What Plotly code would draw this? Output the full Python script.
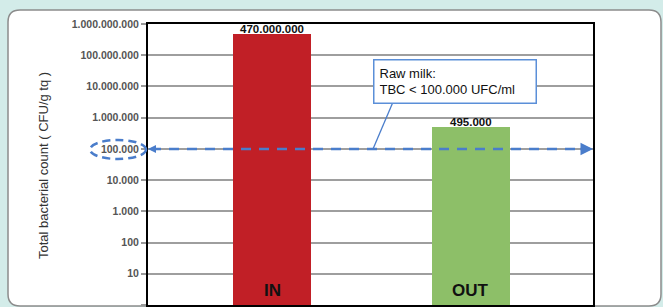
import math
import plotly.graph_objects as go

# ---- data ----
categories = ["IN", "OUT"]
counts = [470000000, 495000]
count_labels = ["470.000.000", "495.000"]
bar_colors = ["#C11F26", "#8DBF68"]
tick_values = [1, 10, 100, 1000, 10000, 100000, 1000000, 10000000, 100000000, 1000000000]
tick_labels = ["1", "10", "100", "1.000", "10.000", "100.000", "1.000.000",
               "10.000.000", "100.000.000", "1.000.000.000"]
threshold = 100000
threshold_text = "Raw milk:<br>TBC &lt; 100.000 UFC/ml"
y_title = "Total bacterial count ( CFU/g tq )"

W, H = 663, 307
L, R, T, B = 148, 593, 24, 305
BLUE = "#4A7DCB"


def px(xp):
    return (xp - L) / (R - L)


def py(yp):
    return (B - yp) / (B - T)


fig = go.Figure()
fig.add_trace(go.Bar(
    x=categories, y=counts, width=0.393,
    marker=dict(color=bar_colors, line=dict(width=0)),
    hoverinfo="skip",
))

# rounded white card
r = 12
x0c, x1c, y0c, y1c = 8, 661, 10, 306
card = (f"M {px(x0c+r)},{py(y0c)} L {px(x1c-r)},{py(y0c)} "
        f"Q {px(x1c)},{py(y0c)} {px(x1c)},{py(y0c+r)} "
        f"L {px(x1c)},{py(y1c-r)} Q {px(x1c)},{py(y1c)} {px(x1c-r)},{py(y1c)} "
        f"L {px(x0c+r)},{py(y1c)} Q {px(x0c)},{py(y1c)} {px(x0c)},{py(y1c-r)} "
        f"L {px(x0c)},{py(y0c+r)} Q {px(x0c)},{py(y0c)} {px(x0c+r)},{py(y0c)} Z")

shapes = [
    dict(type="path", path=card, xref="paper", yref="paper", layer="below",
         fillcolor="white", line=dict(color="#8C8C8C", width=1.5)),
    # threshold dashed line
    dict(type="line", xref="paper", yref="y", x0=px(151), x1=px(586),
         y0=threshold, y1=threshold, layer="above",
         line=dict(color=BLUE, width=2.5, dash="10px,8px")),
    # ellipse around 100.000 label
    dict(type="circle", xref="paper", yref="paper",
         x0=px(90), x1=px(146), y0=py(159), y1=py(140),
         line=dict(color=BLUE, width=2.5, dash="8px,5px")),
    # callout connector
    dict(type="line", xref="paper", yref="paper",
         x0=px(393), y0=py(102), x1=px(373), y1=py(149),
         line=dict(color=BLUE, width=1.3)),
]

annotations = [
    dict(text=y_title, xref="paper", yref="paper", x=px(44), y=py(166),
         textangle=-90, showarrow=False, xanchor="center", yanchor="middle",
         font=dict(family="Liberation Sans", size=13, color="#333")),
    dict(text=threshold_text, xref="paper", yref="paper", x=px(373), y=py(59),
         xanchor="left", yanchor="top", align="left", showarrow=False,
         width=151, borderpad=5, bgcolor="white", bordercolor="#5B8FD8", borderwidth=1.5,
         font=dict(family="Liberation Sans", size=13, color="#111")),
    # arrowheads
    dict(text="", xref="paper", yref="y", x=px(593), y=math.log10(threshold), ax=-14, ay=0,
         showarrow=True, arrowhead=2, arrowsize=1, arrowwidth=2.5, arrowcolor=BLUE),
    dict(text="", xref="paper", yref="y", x=px(148), y=math.log10(threshold), ax=12, ay=0,
         showarrow=True, arrowhead=2, arrowsize=0.8, arrowwidth=2, arrowcolor=BLUE),
]
for c, v, lab in zip(categories, counts, count_labels):
    annotations.append(dict(text=f"<b>{c}</b>", xref="x", yref="y", x=c, y=0.45,
                            showarrow=False, yanchor="middle",
                            font=dict(family="Liberation Sans", size=17, color="#111")))
    annotations.append(dict(text=f"<b>{lab}</b>", xref="x", yref="y", x=c, y=math.log10(v),
                            showarrow=False, yanchor="bottom", borderpad=0, yshift=-2,
                            font=dict(family="Liberation Sans", size=11.5, color="#111")))

fig.update_layout(
    width=W, height=H,
    margin=dict(l=L, r=W - R, t=T, b=H - B, pad=0),
    paper_bgcolor="#D3ECE9", plot_bgcolor="white",
    showlegend=False, bargap=0,
    shapes=shapes, annotations=annotations,
    xaxis=dict(range=[-0.625, 1.617], showticklabels=False, ticks="",
               showgrid=False, zeroline=False, showline=True, mirror=True,
               linecolor="black", linewidth=2, fixedrange=True),
    yaxis=dict(type="log", range=[0, 9], tickvals=tick_values, ticktext=tick_labels,
               ticks="outside", ticklen=5, tickcolor="#999", tickwidth=1.5,
               tickfont=dict(family="Liberation Sans", size=10.5, color="#555", weight="bold"),
               showgrid=True, gridcolor="#9E9E9E", gridwidth=1.5, zeroline=False,
               showline=True, mirror=True, linecolor="black", linewidth=2,
               fixedrange=True),
)

fig.write_html("out.html", config={"displayModeBar": False},
               post_script="document.body.style.margin='0px';document.body.style.overflow='hidden';")
